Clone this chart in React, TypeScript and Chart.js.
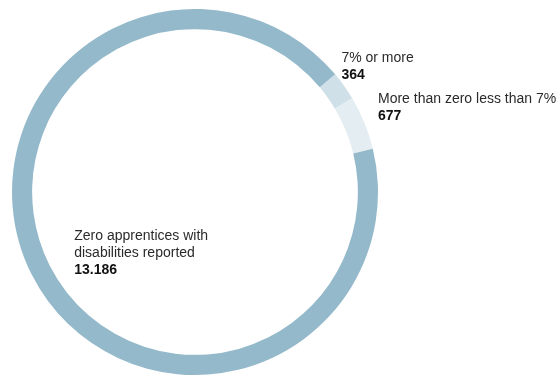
import React, { useEffect, useRef } from "react";
import { Chart, registerables } from "chart.js";

Chart.register(...registerables);

const categories = ["7% or more", "More than zero less than 7%", "Zero apprentices with disabilities reported"];
const values = [364, 677, 13186];
const valueLabels = ["364", "677", "13.186"];
const colors = ["#cfe0e8", "#e4eef2", "#94b9cb"];

const FONT = '"Liberation Sans", Arial, Helvetica, sans-serif';

const labelPlugin = {
  id: "sliceLabels",
  afterDraw(chart: any) {
    const ctx = chart.ctx;
    const meta = chart.getDatasetMeta(0);
    const arc0 = meta.data[0];
    const cx = arc0.x;
    const cy = arc0.y;
    const R = arc0.outerRadius;
    ctx.save();
    ctx.textBaseline = "top";
    ctx.textAlign = "left";
    // label positions relative to the doughnut centre and radius
    const spots = [
      { x: cx + R * 0.80, y: cy - R * 0.77, lines: ["7% or more"] },
      { x: cx + R * 1.0, y: cy - R * 0.546, lines: ["More than zero less than 7%"] },
      { x: cx - R * 0.66, y: cy + R * 0.202, lines: ["Zero apprentices with", "disabilities reported"] },
    ];
    spots.forEach((s, i) => {
      let y = s.y;
      ctx.fillStyle = "#2a2a2a";
      ctx.font = `14px ${FONT}`;
      s.lines.forEach((ln) => {
        ctx.fillText(ln, s.x, y);
        y += 17;
      });
      ctx.fillStyle = "#111111";
      ctx.font = `bold 14px ${FONT}`;
      ctx.fillText(valueLabels[i], s.x, y);
    });
    ctx.restore();
  },
};

export default function App() {
  const ref = useRef<HTMLCanvasElement>(null);
  useEffect(() => {
    const chart = new Chart(ref.current as HTMLCanvasElement, {
      type: "doughnut",
      data: {
        labels: categories,
        datasets: [
          {
            data: values,
            backgroundColor: colors,
            borderWidth: 0,
            hoverOffset: 0,
          },
        ],
      },
      options: {
        responsive: false,
        animation: false,
        cutout: "89%",
        rotation: 50,
        layout: { padding: { left: 12, top: 9, right: 182, bottom: 1 } },
        plugins: {
          legend: { display: false },
          tooltip: { enabled: false },
        },
      },
      plugins: [labelPlugin],
    });
    return () => chart.destroy();
  }, []);
  return (
    <div style={{ position: "fixed", left: 0, top: 0, width: 560, height: 376, background: "#fff" }}>
      <canvas ref={ref} width={560} height={376} />
    </div>
  );
}
